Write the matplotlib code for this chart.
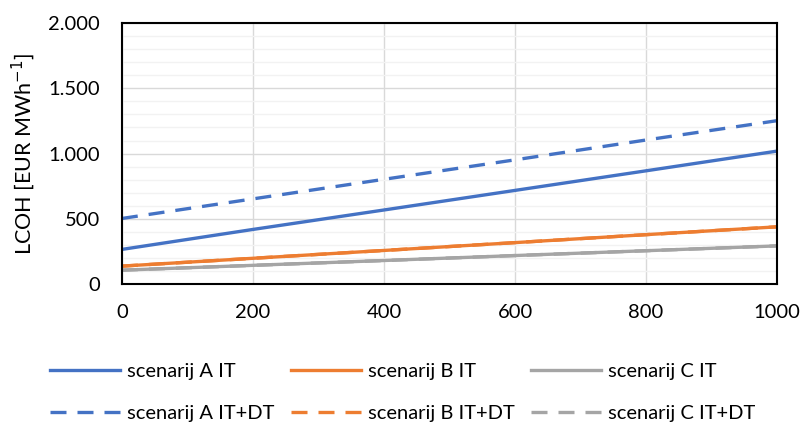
import matplotlib
matplotlib.use('agg')
import matplotlib.pyplot as plt
from matplotlib.ticker import MultipleLocator, FuncFormatter

plt.rcParams['font.family'] = ['Lato', 'DejaVu Sans']

# capacity on the x axis, LCOH values
x_vals = [0, 200, 400, 600, 800, 1000]
a_it = [266, 419, 568, 718, 868, 1019]
b_it = [138, 198, 258, 318, 379, 439]
c_it = [107, 144, 181, 219, 256, 293]
a_itdt = [503, 653, 803, 952, 1104, 1252]
b_itdt = [138, 198, 258, 318, 379, 439]
c_itdt = [107, 144, 181, 219, 256, 293]

blue = '#4472c4'
orange = '#ed7d31'
grey = '#a5a5a5'

fig = plt.figure(figsize=(8.02, 4.26), dpi=100)
ax = fig.add_axes([0.152, 0.333, 0.817, 0.613])

lw = 2.4
dash = (0, (4.8, 3.3))
h_bd, = ax.plot(x_vals, b_itdt, color=orange, lw=lw, linestyle=dash, label='scenarij B IT+DT')
h_cd, = ax.plot(x_vals, c_itdt, color=grey, lw=lw, linestyle=dash, label='scenarij C IT+DT')
h_a, = ax.plot(x_vals, a_it, color=blue, lw=lw, label='scenarij A IT')
h_b, = ax.plot(x_vals, b_it, color=orange, lw=lw, label='scenarij B IT')
h_c, = ax.plot(x_vals, c_it, color=grey, lw=lw, label='scenarij C IT')
h_ad, = ax.plot(x_vals, a_itdt, color=blue, lw=lw, linestyle=dash, label='scenarij A IT+DT')

ax.set_xlim(0, 1000)
ax.set_ylim(0, 2000)
ax.xaxis.set_major_locator(MultipleLocator(200))
ax.yaxis.set_major_locator(MultipleLocator(500))
ax.yaxis.set_minor_locator(MultipleLocator(100))
ax.yaxis.set_major_formatter(FuncFormatter(lambda v, p: f"{int(v):,}".replace(',', '.')))

ax.grid(True, which='major', axis='both', color='#d9d9d9', lw=1.0)
ax.grid(True, which='minor', axis='y', color='#f2f2f2', lw=1.0)
ax.set_axisbelow(True)
ax.tick_params(which='both', length=0, labelsize=14.5, colors='black')
ax.tick_params(axis='x', pad=14)
ax.tick_params(axis='y', pad=16)
for s in ax.spines.values():
    s.set_color('black')
    s.set_linewidth(1.5)

ax.set_ylabel('LCOH [EUR MWh$^{-1}$]', fontsize=15.5, labelpad=8)

handles = [h_a, h_ad, h_b, h_bd, h_c, h_cd]
fig.legend(handles=handles, labels=[h.get_label() for h in handles],
           loc='upper left', bbox_to_anchor=(40 / 802, 1 - 353 / 426), ncol=3,
           frameon=False, borderpad=0, fontsize=14.5, handlelength=3.45,
           handletextpad=0.35, columnspacing=0.85, labelspacing=1.25)

fig.savefig('out.png', dpi=100)
